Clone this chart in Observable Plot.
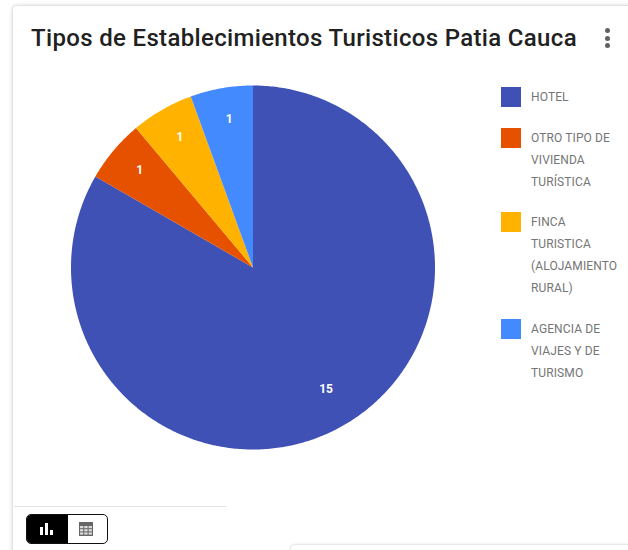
<!DOCTYPE html>
<html><head><meta charset="utf-8">
<script src="https://cdn.jsdelivr.net/npm/d3@7"></script>
<script src="https://cdn.jsdelivr.net/npm/@observablehq/plot@0.6"></script>
<style>
html,body{margin:0;padding:0;background:#fff;width:628px;height:550px;overflow:hidden;font-family:Roboto,sans-serif}
#card{position:absolute;left:13px;top:6px;width:640px;height:600px;background:#fff;border-radius:4px;box-shadow:0 0 4px rgba(0,0,0,.25)}
#title{position:absolute;left:31px;top:23px;font-size:24px;line-height:30px;font-weight:500;color:#212121;white-space:nowrap;letter-spacing:.335px}
.dot{position:absolute;left:605px;width:5px;height:5px;border-radius:50%;background:#616161}
#chart{position:absolute;left:0;top:70px}
.sw{position:absolute;left:501px;width:20px;height:20px}
.lg{position:absolute;left:531px;font-size:12px;line-height:21.85px;color:#757575;white-space:nowrap;letter-spacing:.12px}
#rule{position:absolute;left:14px;top:506px;width:213px;height:1px;background:#e3e3e3}
#cover{position:absolute;left:227px;top:500px;width:420px;height:60px;background:#fff}
#toggle{position:absolute;left:26px;top:514px;width:80px;height:28px;border:1px solid #111;border-radius:5px;overflow:hidden;background:#fff}
#toggle .on{position:absolute;left:0;top:0;width:41px;height:28px;background:#000}
.bar{position:absolute;background:#fff;width:2.5px}
#grid{position:absolute;left:52px;top:7px;width:14px;height:14px}
#other{position:absolute;left:291px;top:545px;width:400px;height:40px;background:#fff;border-radius:4px;box-shadow:0 0 3px rgba(0,0,0,.25)}
</style></head><body>
<div id="card"></div>
<div id="cover"></div>
<div id="rule"></div>
<div id="other"></div>
<div id="title">Tipos de Establecimientos Turisticos Patia Cauca</div>
<div class="dot" style="top:28px"></div><div class="dot" style="top:36px"></div><div class="dot" style="top:43px"></div>
<div id="chart"></div>
<div id="legend"></div>
<div id="toggle"><div class="on">
<div class="bar" style="left:13px;top:12px;height:8px"></div>
<div class="bar" style="left:18px;top:8px;height:12px"></div>
<div class="bar" style="left:23px;top:15px;height:5px"></div></div>
<svg id="grid" viewBox="0 0 14 14"><rect width="14" height="14" fill="#666"/><g fill="#ddd"><rect x="1" y="4" width="3.3" height="2.2"/><rect x="5.3" y="4" width="3.3" height="2.2"/><rect x="9.6" y="4" width="3.3" height="2.2"/><rect x="1" y="7.2" width="3.3" height="2.2"/><rect x="5.3" y="7.2" width="3.3" height="2.2"/><rect x="9.6" y="7.2" width="3.3" height="2.2"/><rect x="1" y="10.4" width="3.3" height="2.2"/><rect x="5.3" y="10.4" width="3.3" height="2.2"/><rect x="9.6" y="10.4" width="3.3" height="2.2"/></g></svg>
</div>
<script>
const categories = ["HOTEL","OTRO TIPO DE VIVIENDA TURÍSTICA","FINCA TURISTICA (ALOJAMIENTO RURAL)","AGENCIA DE VIAJES Y DE TURISMO"];
const values = [15,1,1,1];
const colors = ["#3f51b5","#e65100","#ffb300","#448aff"];
const legendLines = [["HOTEL"],["OTRO TIPO DE","VIVIENDA","TURÍSTICA"],["FINCA","TURISTICA","(ALOJAMIENTO","RURAL)"],["AGENCIA DE","VIAJES Y DE","TURISMO"]];
const legendTops = [87,128,212,319];

const arcs = d3.pie().sort(null)(values);
const slicePoints = arcs.flatMap((a,i)=>{
  const n = Math.max(2,Math.ceil((a.endAngle-a.startAngle)*90));
  const pts = [{name:categories[i],x:0,y:0}];
  for(let k=0;k<=n;k++){
    const t = a.startAngle+(a.endAngle-a.startAngle)*k/n;
    pts.push({name:categories[i],x:Math.sin(t),y:Math.cos(t)});
  }
  pts.push({name:categories[i],x:0,y:0});
  return pts;
});
const labels = arcs.map((a,i)=>{
  const t=(a.startAngle+a.endAngle)/2;
  const r=(a.endAngle-a.startAngle)>Math.PI?0.775:0.83;
  return {value:values[i],x:r*Math.sin(t),y:r*Math.cos(t)};
});
const chart = Plot.plot({
  width:628,height:400,margin:0,
  style:{background:"transparent"},
  x:{domain:[-1,1],range:[70.5,434.5],axis:null},
  y:{domain:[-1,1],range:[379,15],axis:null},
  color:{domain:categories,range:colors},
  marks:[
    Plot.line(slicePoints,{x:"x",y:"y",z:"name",fill:"name",stroke:null,curve:"linear"}),
    Plot.text(labels,{x:"x",y:"y",dx:2.5,text:d=>String(d.value),fill:"#fff",fontSize:12,fontWeight:700,fontFamily:"Roboto"})
  ]
});
document.getElementById("chart").append(chart);
const lg=document.getElementById("legend");
legendLines.forEach((lines,i)=>{
  const s=document.createElement("div");s.className="sw";s.style.top=legendTops[i]+"px";s.style.background=colors[i];lg.append(s);
  const t=document.createElement("div");t.className="lg";t.style.top=legendTops[i]+"px";t.innerHTML=lines.join("<br>");lg.append(t);
});
</script></body></html>
